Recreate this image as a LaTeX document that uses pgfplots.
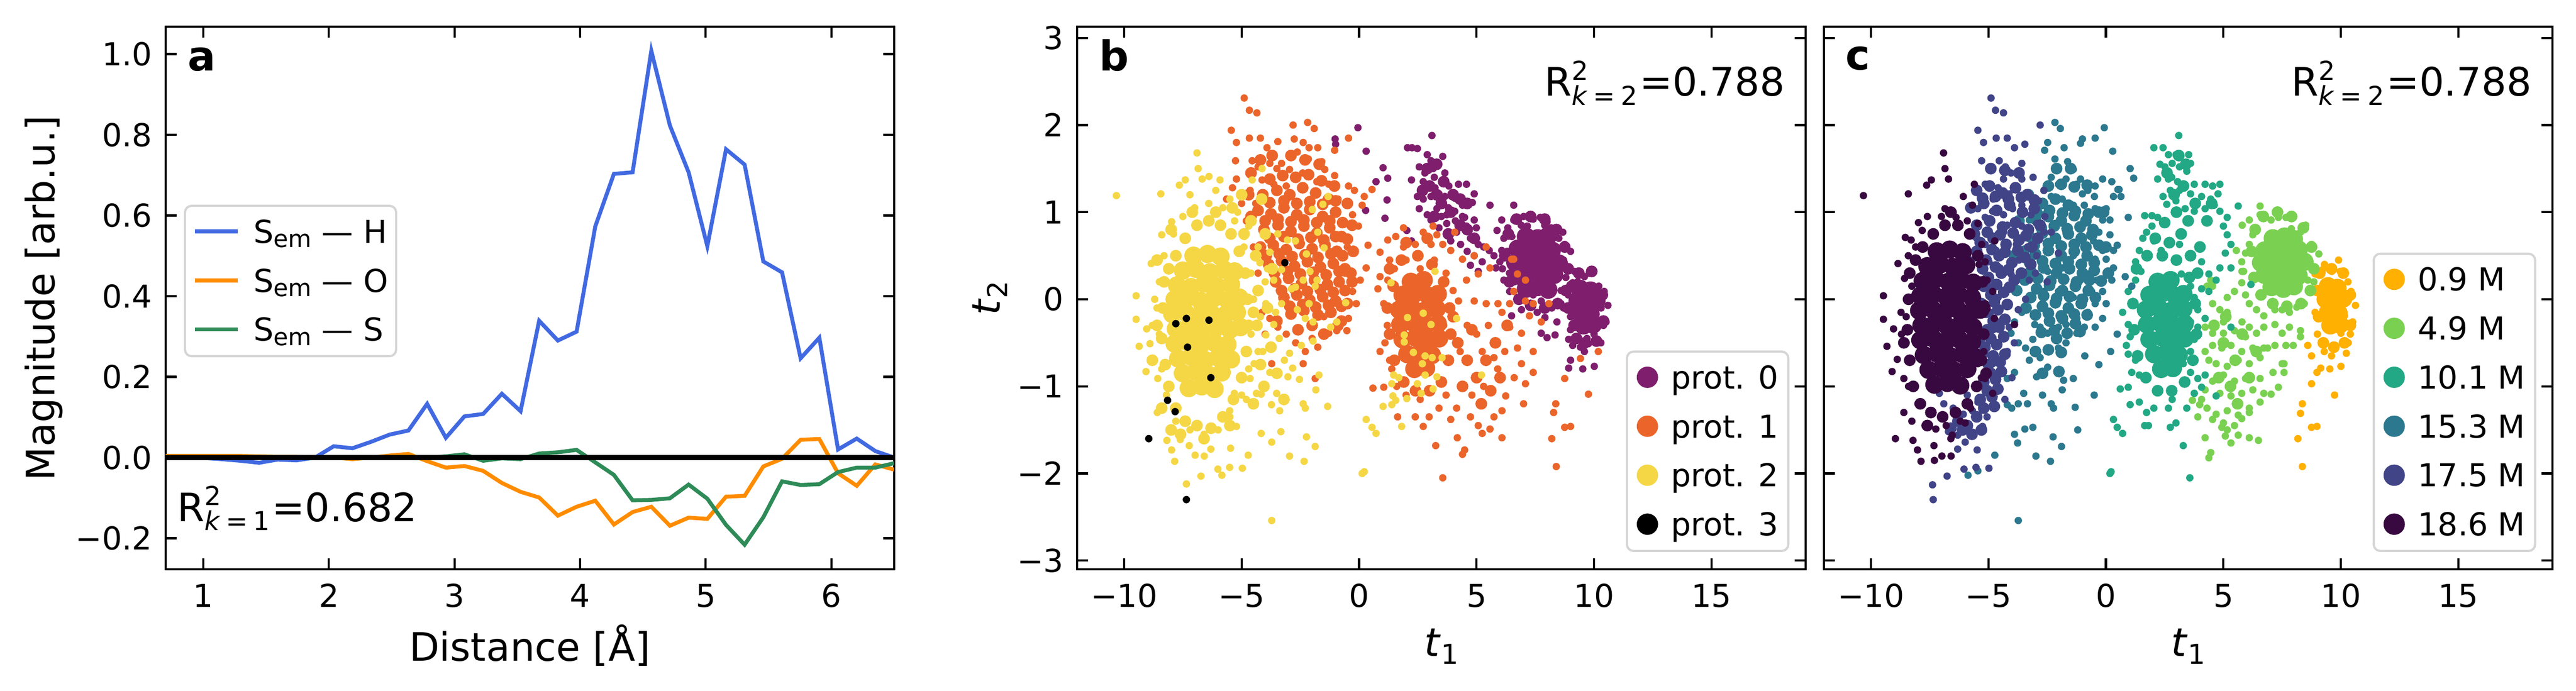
\documentclass[border=0pt]{standalone}
\usepackage{fontspec}
\setmainfont{DejaVu Sans}
\usepackage{pgfplots}
\pgfplotsset{compat=1.18}
\definecolor{cH}{HTML}{4169E1}
\definecolor{cO}{HTML}{FF8C00}
\definecolor{cS}{HTML}{2E8B57}
\definecolor{pA}{HTML}{7E1E6C}
\definecolor{pB}{HTML}{EB652B}
\definecolor{pC}{HTML}{F5D746}
\definecolor{pD}{HTML}{000000}
\definecolor{mA}{HTML}{FFB000}
\definecolor{mB}{HTML}{7AD151}
\definecolor{mC}{HTML}{22A884}
\definecolor{mD}{HTML}{2C788E}
\definecolor{mE}{HTML}{414487}
\definecolor{mF}{HTML}{380840}
\definecolor{legframe}{HTML}{D5D5D5}
\newcommand\tickfont{\fontsize{14.5bp}{17bp}\selectfont}
\newcommand\labfont{\fontsize{18bp}{21bp}\selectfont}
\newcommand\smfont{\fontsize{12bp}{14bp}\selectfont}
\newcommand\panfont{\fontsize{19bp}{22bp}\selectfont\bfseries}
\newcommand\Rsq[2]{R\rlap{\raisebox{7.3bp}{\smfont 2}}\raisebox{-4.2bp}{\smfont\textit{k}\hspace{2.5bp}=\hspace{2.5bp}#1}\hspace{1bp}=#2}
\newcommand\Sem[1]{S\raisebox{-2bp}{\fontsize{11bp}{13bp}\selectfont em} — #1}
\pgfplotsset{
  panel/.style={scale only axis, width=334.5bp, height=249.36bp,
    clip mode=individual,
    tick align=inside, tick pos=both, xticklabel pos=lower, yticklabel pos=left,
    major tick length=5bp, minor tick num=0,
    every tick/.style={line width=1bp, black},
    axis line style={line width=1bp},
    xticklabel style={anchor=base, yshift=-17.5bp, inner sep=0pt, font=\tickfont},
    yticklabel style={anchor=east, xshift=-6bp, inner sep=0pt, font=\tickfont},
    legend style={draw=legframe, line width=1bp, rounded corners=3bp, fill=white,
      inner xsep=4.5bp, inner ysep=6.5bp, row sep=11.4bp, font=\tickfont,
      nodes={inner sep=0pt, text height=10.6bp, text depth=0pt, anchor=base west}},
    legend cell align=left},
  dot/.style={only marks, mark=*, mark size=1.5bp, forget plot},
  mid/.style={only marks, mark=*, mark size=2.5bp, forget plot},
  big/.style={only marks, mark=*, mark size=4bp, forget plot},
  scatpanel/.style={panel, xmin=-12, xmax=19, ymin=-3.1, ymax=3.13,
    xtick={-10,-5,0,5,10,15}, xticklabels={−10,−5,0,5,10,15},
    ytick={-3,-2,-1,0,1,2,3},
    legend style={at={(0.9778,0.0318)}, anchor=south east}}
}
\newcommand\legdot[1]{\addlegendimage{legend image code/.code={\fill[#1] (8.7bp,5.3bp) circle (4.4bp); \path (19bp,0bp);}}}
\newcommand\legline[1]{\addlegendimage{legend image code/.code={\draw[#1, line width=1.8bp] (0bp,5.3bp) -- (19.7bp,5.3bp); \path (26.5bp,0bp);}}}
\begin{document}
\begin{tikzpicture}
\path[use as bounding box] (0,0) rectangle (1182.96bp,317.52bp);
% ---------------- panel a ----------------
\begin{axis}[panel, at={(76.08bp,55.92bp)}, anchor=south west,
  xmin=0.7, xmax=6.5, ymin=-0.277, ymax=1.068,
  xtick={1,2,3,4,5,6}, xticklabels={1,2,3,4,5,6},
  ytick={-0.2,0,0.2,0.4,0.6,0.8,1.0}, yticklabels={−0.2,0.0,0.2,0.4,0.6,0.8,1.0},
  legend style={at={(0.0251,0.6718)}, anchor=north west, inner xsep=3.6bp}]
\legline{cH}\addlegendentry{\Sem{H}}
\legline{cO}\addlegendentry{\Sem{O}}
\legline{cS}\addlegendentry{\Sem{S}}
\addplot[cH, line width=1.8bp, forget plot] coordinates {
(0.700,0.000) (0.849,0.000) (0.997,-0.001) (1.146,-0.004) (1.295,-0.008) (1.444,-0.013) (1.592,-0.005) (1.741,-0.007) (1.890,0.000) (2.038,0.028)
(2.187,0.023) (2.336,0.039) (2.485,0.057) (2.633,0.067) (2.782,0.133) (2.931,0.049) (3.079,0.102) (3.228,0.108) (3.377,0.158) (3.526,0.115)
(3.674,0.339) (3.823,0.290) (3.972,0.312) (4.121,0.573) (4.269,0.703) (4.418,0.707) (4.567,1.008) (4.715,0.823) (4.864,0.707) (5.013,0.524)
(5.162,0.764) (5.310,0.726) (5.459,0.486) (5.608,0.459) (5.756,0.246) (5.905,0.297) (6.054,0.020) (6.203,0.047) (6.351,0.016) (6.500,0.000)};
\addplot[cO, line width=1.8bp, forget plot] coordinates {
(0.700,0.004) (0.849,0.004) (0.997,0.004) (1.146,0.004) (1.295,0.004) (1.444,0.003) (1.592,0.002) (1.741,0.002) (1.890,0.001) (2.038,0.000)
(2.187,-0.004) (2.336,0.000) (2.485,0.005) (2.633,0.009) (2.782,-0.009) (2.931,-0.025) (3.079,-0.021) (3.228,-0.033) (3.377,-0.063) (3.526,-0.085)
(3.674,-0.099) (3.823,-0.144) (3.972,-0.122) (4.121,-0.107) (4.269,-0.166) (4.418,-0.135) (4.567,-0.122) (4.715,-0.169) (4.864,-0.149) (5.013,-0.152)
(5.162,-0.097) (5.310,-0.095) (5.459,-0.022) (5.608,-0.003) (5.756,0.044) (5.905,0.046) (6.054,-0.039) (6.203,-0.070) (6.351,-0.017) (6.500,-0.030)};
\addplot[cS, line width=1.8bp, forget plot] coordinates {
(0.700,0.000) (0.849,0.000) (0.997,0.000) (1.146,0.000) (1.295,0.000) (1.444,0.000) (1.592,0.000) (1.741,0.000) (1.890,0.000) (2.038,0.000)
(2.187,0.000) (2.336,0.000) (2.485,0.000) (2.633,0.000) (2.782,0.000) (2.931,0.003) (3.079,0.008) (3.228,-0.008) (3.377,-0.002) (3.526,-0.004)
(3.674,0.010) (3.823,0.013) (3.972,0.019) (4.121,-0.012) (4.269,-0.043) (4.418,-0.106) (4.567,-0.105) (4.715,-0.101) (4.864,-0.067) (5.013,-0.102)
(5.162,-0.167) (5.310,-0.216) (5.459,-0.148) (5.608,-0.059) (5.756,-0.068) (5.905,-0.066) (6.054,-0.036) (6.203,-0.025) (6.351,-0.025) (6.500,-0.014)};
\addplot[black, line width=2.2bp, forget plot] coordinates {(0.7,0) (6.5,0)};
\path (rel axis cs:0,1) ++(10bp,-20.2bp) node[anchor=base west, inner sep=0pt] {\panfont a};
\path (rel axis cs:0,0) ++(5.2bp,22bp) node[anchor=base west, inner sep=0pt] {\labfont\Rsq{1}{0.682}};
\path (rel axis cs:0.5,0) ++(0bp,-42.2bp) node[anchor=base, inner sep=0pt] {\labfont Distance [Å]};
\path (rel axis cs:0,0.5) ++(-51bp,0bp) node[rotate=90, anchor=base, inner sep=0pt] {\labfont Magnitude [arb.u.]};
\end{axis}
% ---------------- panel b ----------------
\begin{axis}[scatpanel, at={(494.64bp,55.92bp)}, anchor=south west,
  yticklabels={−3,−2,−1,0,1,2,3}]
\legdot{pA}\addlegendentry{prot. 0}
\legdot{pB}\addlegendentry{prot. 1}
\legdot{pC}\addlegendentry{prot. 2}
\legdot{pD}\addlegendentry{prot. 3}
% prot 0
\addplot[big, pA] coordinates {
(7.1,0.72) (7.6,0.70) (8.05,0.73) (6.75,0.58) (7.25,0.55) (7.75,0.59) (8.2,0.56)
(6.65,0.42) (7.15,0.44) (7.65,0.40) (8.15,0.43) (8.5,0.41) (6.8,0.27) (7.3,0.29) (7.8,0.26) (8.3,0.28)
(7.1,0.12) (7.6,0.14) (8.05,0.11)
(9.4,0.12) (9.85,0.10) (9.3,-0.02) (9.75,-0.03) (10.1,-0.01) (9.4,-0.16) (9.85,-0.17) (9.55,-0.30) (9.95,-0.29)};
\addplot[mid, pA] coordinates {
(6.2,0.5) (6.35,0.75) (6.7,0.92) (7.3,0.95) (7.9,0.92) (8.4,0.8) (8.75,0.6) (8.9,0.35) (8.8,0.1) (8.45,-0.05)
(7.9,-0.1) (7.3,-0.07) (6.8,0.0) (6.4,0.2) (8.9,-0.1) (9.05,0.15) (9.15,-0.3) (9.35,0.3) (9.9,0.32) (10.35,0.05)
(10.4,-0.25) (10.1,-0.48) (9.6,-0.5) (9.25,-0.45) (3.3,1.2) (3.9,1.0) (4.3,1.15) (3.6,1.35) (2.9,1.5) (4.6,0.8)
(3.0,1.3) (3.5,1.1) (4.0,1.2) (3.2,0.95) (4.3,0.85) (3.8,0.75) (2.7,1.25) (3.3,1.55) (4.6,1.1) (4.9,0.7)};
\addplot[dot, pA] coordinates {
(-0.05,1.97) (-1.02,1.84) (-1.00,1.78) (0.30,1.70) (1.02,1.51) (1.22,1.39) (0.72,1.35) (1.19,1.14) (1.10,0.93) (0.28,1.02)
(3.10,1.88) (2.06,1.74) (2.25,1.74) (2.48,1.73) (2.90,1.66) (3.06,1.59) (3.56,1.64) (3.65,1.45) (2.56,1.52) (3.15,1.50)
(2.23,1.37) (2.73,1.35) (3.23,1.28) (3.82,1.30) (4.23,1.32) (4.57,1.32) (4.90,1.21) (4.82,1.11) (4.40,1.08) (4.07,1.16)
(3.65,1.18) (3.40,1.21) (3.06,1.18) (2.73,1.15) (2.48,1.18) (2.56,1.04) (2.90,0.97) (3.31,1.04) (3.73,0.97) (4.07,1.01)
(4.49,0.94) (4.90,0.91) (4.99,0.82) (4.57,0.84) (4.15,0.77) (3.73,0.87) (3.40,0.82) (3.06,0.91) (3.90,0.67) (4.32,0.63)
(4.74,0.70) (5.07,0.63) (4.90,0.50) (4.74,0.39) (5.24,0.43) (5.07,0.32) (5.57,1.08) (6.58,1.08) (6.07,0.91) (5.87,0.79)
(5.54,0.56) (5.74,0.50) (5.82,0.36) (6.16,0.22) (6.41,0.09) (6.74,0.02) (7.41,0.05) (7.75,-0.02) (8.59,-0.05) (6.49,-0.19)
(6.91,-0.12) (7.58,-0.15) (7.91,-0.21) (8.42,-0.26) (7.75,-0.39) (8.00,-0.44) (8.34,-0.41) (8.92,-0.46) (9.09,-0.53) (9.42,-0.55)
(9.76,-0.51) (10.29,-0.50) (10.51,-0.26) (10.59,-0.07) (10.43,0.09) (9.96,0.32) (9.59,0.26) (9.17,0.32) (9.00,-0.70) (9.52,-0.80)
(10.01,-0.77) (8.92,-0.79) (9.59,-0.60) (7.16,0.84) (7.41,0.92) (7.71,0.94) (6.58,0.91) (6.33,0.82) (6.16,0.70) (6.07,0.56)
(5.99,0.43) (8.75,0.63) (9.00,0.55) (8.67,0.77) (8.17,0.82) (8.00,0.89) (9.09,0.19) (2.03,0.79) (2.23,0.67)
(6.3,0.55) (6.4,0.3) (6.5,0.72) (6.9,0.85) (8.5,0.7) (8.7,0.45) (8.8,0.25) (8.6,0.1) (8.9,0.05) (8.7,-0.1)
(9.0,-0.2) (9.1,0.0) (9.0,-0.35) (10.2,0.15) (10.3,-0.1) (10.2,-0.3) (9.3,-0.45) (9.7,-0.45) (10.0,-0.4) (10.4,-0.3)
(9.3,0.2) (9.8,0.3) (8.2,-0.1) (7.2,-0.05) (6.6,0.2) (6.1,0.35) (7.0,0.95) (7.9,0.85) (8.4,0.6) (3.8,1.05)
(3.2,1.4) (2.8,1.45) (4.4,0.95) (3.5,0.95) (4.1,0.9) (4.6,0.55) (5.3,0.6)};
% prot 1
\addplot[mid, pB] coordinates {
(-4.1,1.2) (-3.5,1.25) (-2.95,1.2) (-2.4,1.28) (-1.85,1.22) (-1.3,1.15)
(-4.3,1.02) (-3.75,0.98) (-3.2,1.05) (-2.65,0.97) (-2.1,1.03) (-1.55,0.95) (-1.0,1.0)
(-4.05,0.8) (-3.45,0.85) (-2.9,0.78) (-2.35,0.84) (-1.8,0.76) (-1.25,0.82) (-0.75,0.72)
(-4.2,0.6) (-3.65,0.62) (-3.1,0.57) (-2.55,0.64) (-2.0,0.58) (-1.45,0.62) (-0.95,0.55)
(-3.85,0.4) (-3.3,0.44) (-2.75,0.38) (-2.2,0.43) (-1.65,0.37) (-1.1,0.41) (-0.6,0.35)
(-3.55,0.2) (-3.0,0.24) (-2.45,0.18) (-1.9,0.22) (-1.35,0.17) (-0.85,0.2)
(-3.2,0.02) (-2.65,0.05) (-2.1,-0.01) (-1.55,0.03) (-1.0,-0.02)
(-2.9,-0.17) (-2.35,-0.13) (-1.75,-0.18) (-1.2,-0.15)
(-3.8,1.11) (-3.2,1.13) (-2.65,1.10) (-2.1,1.12) (-1.55,1.09) (-1.0,1.13)
(-4.0,0.9) (-3.45,0.92) (-2.9,0.89) (-2.35,0.91) (-1.8,0.88) (-1.25,0.9) (-0.7,0.88)
(-3.8,0.7) (-3.2,0.72) (-2.6,0.69) (-2.05,0.71) (-1.5,0.68) (-1.0,0.72) (-0.5,0.69)
(-3.95,0.5) (-3.4,0.52) (-2.85,0.49) (-2.3,0.51) (-1.75,0.48) (-1.2,0.52) (-0.7,0.5)
(-3.6,0.3) (-3.05,0.32) (-2.5,0.29) (-1.95,0.31) (-1.4,0.28) (-0.85,0.32) (-0.35,0.3)
(-3.3,0.1) (-2.75,0.12) (-2.2,0.09) (-1.65,0.11) (-1.1,0.08) (-0.6,0.1)
(-2.95,-0.08) (-2.4,-0.06) (-1.85,-0.09) (-1.3,-0.07) (-0.75,-0.08)
(-4.6,1.45) (-4.2,1.6) (-3.7,1.65) (-2.9,1.65) (-2.3,1.6) (-1.7,1.55) (-4.7,1.2) (-4.6,0.95)
(-3.8,1.38) (-3.25,1.42) (-2.7,1.4) (-2.15,1.43) (-1.6,1.36) (-1.05,1.3) (-0.5,1.1) (-0.3,0.85) (-0.25,0.55) (-0.3,0.2)
(-0.5,-0.05) (-0.75,-0.25) (-3.5,-0.25) (-2.6,-0.35) (-1.5,-0.4) (-2.0,-0.3) (-0.9,-0.3)};
\addplot[big, pB] coordinates {
(2.2,0.20) (2.75,0.22) (1.85,0.05) (2.4,0.07) (2.95,0.04) (3.35,0.06)
(1.7,-0.12) (2.25,-0.10) (2.8,-0.13) (3.3,-0.11) (1.75,-0.29) (2.3,-0.27) (2.85,-0.30) (3.35,-0.28)
(1.85,-0.46) (2.4,-0.44) (2.95,-0.47) (3.4,-0.45) (2.05,-0.63) (2.6,-0.61) (3.1,-0.64) (2.35,-0.80) (2.85,-0.79)};
\addplot[mid, pB] coordinates {
(1.3,0.35) (1.8,0.45) (2.5,0.5) (3.1,0.4) (3.6,0.2) (3.85,-0.1) (3.9,-0.4) (3.8,-0.7) (3.5,-0.95) (3.0,-1.05)
(2.4,-1.05) (1.9,-0.95) (1.5,-0.7) (1.3,-0.4) (1.2,-0.1) (1.45,0.15) (2.0,0.65) (2.9,0.7)
(4.2,-0.5) (4.6,-0.7) (5.0,-0.9) (5.4,-0.7) (5.8,-0.5) (4.4,-1.0) (5.2,-1.2) (6.0,-0.9) (4.0,-0.2) (6.3,-0.3) (5.6,-1.05) (4.8,-0.35)};
\addplot[dot, pB] coordinates {
(-4.89,2.31) (-4.67,2.17) (-4.35,2.14) (-5.44,1.94) (-5.22,1.80) (-5.26,1.59) (-4.67,1.85) (-4.20,1.85) (-3.92,1.74) (-3.46,1.81)
(-2.81,2.00) (-2.19,2.03) (-1.91,1.96) (-2.76,1.84) (-2.38,1.80) (-2.13,1.74) (-1.76,1.74) (-0.45,1.85) (-1.04,1.71) (-1.59,1.58)
(-2.16,1.61) (-2.63,1.69) (-4.55,1.59) (-4.30,1.52) (-3.80,1.56) (-3.30,1.56) (-2.96,1.49) (-4.13,1.37) (-3.63,1.32) (-4.64,1.25)
(-5.22,1.38) (-5.39,1.28) (-5.64,1.15) (-1.46,1.49) (-1.04,1.42) (-1.29,1.32) (-0.45,1.30) (-0.20,1.25) (0.22,1.18) (0.55,1.26)
(0.13,1.08) (-0.28,0.97) (-0.03,0.84) (0.38,0.62) (0.30,0.36) (0.05,0.22) (-0.28,0.09) (-0.12,-0.05) (-0.45,-0.22) (-0.52,-0.36)
(-0.95,-0.36) (-1.29,-0.39) (-1.76,-0.55) (-2.29,-0.60) (-3.46,-0.32) (-3.80,-0.22) (-4.13,-0.15) (-3.72,-0.74) (-2.38,-0.74) (-1.87,-0.91)
(-2.0,-0.45) (-2.7,-0.5) (-3.1,-0.4) (-1.5,-0.2) (-0.8,-0.1) (-0.6,0.3) (-0.5,0.6) (-0.7,0.9) (-0.9,1.15) (-1.8,1.35)
(-2.4,1.45) (-3.1,1.3) (-3.5,1.5) (-4.4,1.1) (-4.8,0.9) (-5.0,1.1) (-4.5,0.6) (-4.3,0.3) (-4.5,0.0) (-4.0,-0.4)
(1.89,0.82) (1.56,0.72) (1.22,0.68) (0.89,0.54) (1.89,0.60) (2.39,0.63) (2.73,0.77) (3.15,0.84) (3.31,0.74) (3.06,0.63)
(2.56,0.50) (3.56,0.63) (4.07,0.77) (3.90,0.56) (4.40,0.46) (4.90,0.50) (5.41,0.60) (5.57,0.36) (5.07,0.29) (4.57,0.22)
(4.23,-0.02) (4.90,-0.02) (5.41,-0.05) (5.91,-0.05) (6.08,-0.15) (6.41,-0.05) (6.58,0.09) (6.74,0.29) (6.49,0.46) (7.08,0.22)
(7.08,-0.02) (7.41,-0.05) (7.25,-0.19) (7.75,-0.26) (8.08,-0.05) (6.91,-0.39) (6.41,-0.32) (6.74,-0.56) (7.41,-0.60) (6.91,-0.74)
(7.41,-0.84) (7.08,-0.97) (6.24,-1.11) (6.08,-1.28) (5.74,-1.35) (5.57,-1.49) (6.08,-1.59) (5.24,-1.54) (5.07,-1.45) (4.74,-1.35)
(4.15,-1.25) (3.90,-1.38) (4.18,-1.59) (4.49,-1.73) (4.40,-1.78) (3.56,-2.05) (3.26,-1.68) (2.73,-1.46) (2.98,-1.35) (3.40,-1.25)
(2.39,-1.35) (1.64,-1.35) (1.05,-1.01) (0.59,-1.02) (1.39,-0.80) (0.89,-0.60) (1.05,-0.05) (0.80,0.12) (1.22,0.22) (0.89,0.26)
(5.74,-0.67) (5.24,-0.60) (8.75,-0.91) (9.76,-1.09) (8.37,-1.20) (8.28,-1.30) (8.75,-1.47) (9.00,-1.46) (8.20,-1.60) (8.39,-1.92)
(10.18,-0.60) (9.42,-0.68) (6.58,0.46) (1.3,0.45) (1.5,0.35) (1.2,-0.3) (1.1,-0.5) (1.3,-0.7) (1.6,-1.0) (2.0,-1.1)
(2.6,-1.15) (3.1,-1.05) (3.7,-1.1) (4.3,-0.6) (4.6,-0.3) (5.0,-0.4) (5.5,-0.3) (5.9,-0.8) (6.2,-0.6) (5.3,-1.0)
(4.8,-1.1) (6.6,-0.9) (7.0,-1.2) (3.7,0.3) (4.0,0.1) (3.6,-0.3) (2.0,0.45) (2.6,0.35) (3.2,0.45)};
% prot 2
\addplot[big, pC] coordinates {
(-7.05,0.50) (-6.45,0.52) (-5.9,0.49)
(-7.5,0.33) (-6.95,0.35) (-6.35,0.31) (-5.75,0.34) (-5.3,0.32)
(-7.75,0.16) (-7.15,0.14) (-6.6,0.18) (-6.05,0.15) (-5.45,0.17)
(-7.85,0.0) (-7.3,0.02) (-6.75,-0.02) (-6.2,0.01) (-5.6,-0.01) (-5.1,0.02)
(-7.95,-0.17) (-7.4,-0.15) (-6.85,-0.19) (-6.3,-0.16) (-5.7,-0.18) (-5.2,-0.15)
(-7.8,-0.34) (-7.25,-0.32) (-6.7,-0.36) (-6.1,-0.33) (-5.5,-0.35) (-5.05,-0.32)
(-7.85,-0.51) (-7.3,-0.49) (-6.75,-0.53) (-6.15,-0.50) (-5.6,-0.52)
(-7.7,-0.68) (-7.15,-0.66) (-6.55,-0.70) (-6.0,-0.67) (-5.45,-0.69)
(-7.5,-0.85) (-6.95,-0.83) (-6.4,-0.87) (-5.85,-0.84)
(-7.25,-1.02) (-6.7,-1.00) (-6.15,-1.03)};
\addplot[mid, pC] coordinates {
(-8.3,0.2) (-8.35,-0.1) (-8.4,-0.45) (-8.25,-0.75) (-8.1,-1.0) (-7.8,-1.25) (-7.4,-1.4) (-6.9,-1.45) (-6.3,-1.48) (-5.8,-1.35)
(-5.35,-1.15) (-5.0,-0.9) (-4.8,-0.6) (-4.7,-0.3) (-4.75,0.0) (-4.85,0.3) (-5.1,0.55) (-5.45,0.75) (-5.9,0.85) (-6.4,0.9)
(-6.9,0.85) (-7.4,0.7) (-7.8,0.5) (-8.1,0.35) (-7.1,1.0) (-6.1,1.0) (-8.6,-0.3) (-4.5,-0.15) (-7.6,-1.55) (-6.6,-1.6)
(-5.5,-1.45) (-4.9,0.75)
(-4.6,0.9) (-4.4,0.5) (-4.3,0.1) (-4.35,-0.3) (-4.2,-0.75) (-4.5,-1.2) (-4.0,0.75) (-3.9,-0.1) (-3.75,-0.55) (-4.05,-1.0)
(-3.7,0.35) (-4.15,1.15) (-3.5,-0.85) (-3.2,-1.15) (-5.0,1.2) (-5.4,1.05) (-8.0,0.8) (-8.6,0.45) (-8.8,-0.7) (-8.4,-1.25) (-8.0,-1.5)};
\addplot[dot, pC] coordinates {
(-10.33,1.19) (-8.44,1.21) (-7.65,1.31) (-7.40,1.37) (-6.90,1.68) (-6.85,1.50) (-6.68,1.38) (-6.39,1.41) (-5.92,1.37) (-7.98,0.89)
(-8.40,0.74) (-8.85,0.41) (-9.49,0.04) (-9.49,-0.23) (-9.36,-0.54) (-9.04,-0.34) (-8.90,-0.51) (-9.07,-0.83) (-8.85,-0.69) (-8.57,-0.91)
(-8.59,-1.30) (-8.18,-1.62) (-7.98,-1.73) (-7.85,-1.86) (-7.61,-1.61) (-7.23,-1.68) (-6.98,-1.79) (-7.35,-2.12) (-6.73,-2.03) (-6.59,-1.80)
(-6.31,-1.72) (-6.01,-1.95) (-5.84,-2.02) (-5.51,-1.93) (-4.97,-1.94) (-4.72,-1.79) (-5.47,-1.71) (-5.22,-1.46) (-5.51,-1.28) (-3.72,-2.54)
(-4.17,-1.54) (-3.72,-1.64) (-3.33,-1.52) (-2.96,-1.80) (-2.34,-1.86) (-1.87,-1.69) (-2.24,-1.58) (-3.38,-1.28) (-3.73,-1.21) (-4.17,-1.09)
(-3.51,-1.08) (-2.38,-1.20) (-2.29,-1.25) (-1.84,-1.04) (-1.34,-1.23) (-2.54,-0.92) (-3.03,-0.89) (-2.83,-0.79) (-3.18,-0.70) (-2.96,-0.62)
(-2.46,-0.53) (-1.96,-0.48) (-1.71,-0.87) (-1.21,-0.32) (-0.95,-0.26) (-0.57,-0.04) (-1.96,-0.26) (-2.29,-0.22) (-2.13,-0.05) (-2.63,-0.12)
(-2.88,0.12) (-2.71,0.14) (-2.38,0.22) (-2.09,0.32) (-1.87,0.15) (-1.79,0.22) (-1.76,0.77) (-2.24,0.52) (-1.49,0.59) (-1.54,1.09)
(-1.32,1.18) (-1.99,1.03) (-2.71,0.67) (-3.05,0.68) (-3.46,0.75) (-3.80,0.54) (-4.22,0.42) (-4.13,1.50) (-4.55,1.37) (-5.17,1.00)
(-4.70,0.84) (-4.89,0.72) (-3.63,0.22) (-3.30,0.34) (-4.22,0.09) (-3.97,-0.05) (-3.55,-0.15) (-3.30,-0.05) (-3.63,-0.29) (-3.97,-0.41)
(-4.30,-0.60) (-4.47,-0.74) (-3.80,-0.84) (-4.64,-0.91) (-4.37,-1.08) (-4.80,-1.15) (-5.31,-1.08) (0.30,-1.38) (0.55,-1.47) (0.72,-1.54)
(0.13,-2.00) (0.22,-1.98) (1.02,-1.23) (1.39,-1.21) (1.44,-1.11) (1.56,-1.16) (1.81,-1.46) (2.03,-1.14) (1.39,-0.97) (1.47,-0.87)
(1.69,-0.90) (1.92,-0.41) (1.92,-0.49) (2.06,-0.21) (2.73,-0.16) (3.06,-0.29) (2.31,-0.61) (2.81,-0.65) (2.69,-0.74) (3.11,-0.67)
(3.53,-0.67) (2.48,-0.97) (2.81,-0.87) (3.15,-1.03) (3.31,-0.89) (2.64,-1.08) (4.15,-0.22) (5.21,-0.87) (3.23,0.32) (1.36,0.19)
(-8.3,0.5) (-8.5,0.2) (-8.6,-0.1) (-8.5,-0.4) (-8.4,-0.8) (-8.2,-1.1) (-7.8,-1.4) (-7.2,-1.5) (-6.6,-1.55) (-6.0,-1.5)
(-5.5,-1.35) (-5.0,-1.1) (-4.7,-0.8) (-4.6,-0.4) (-4.5,0.0) (-4.6,0.3) (-4.9,0.6) (-5.3,0.9) (-5.8,1.05) (-6.4,1.1)
(-7.0,1.05) (-7.5,0.95) (-7.9,0.75) (-4.2,-0.2) (-4.0,0.2) (-4.3,0.6) (-4.1,-0.6) (-3.9,0.35) (-3.4,-0.45) (-8.7,0.0)
(-8.8,-0.3) (-6.1,1.25) (-5.5,1.15) (-7.2,1.2)};
% prot 3
\addplot[dot, pD] coordinates {
(-3.16,0.42) (-7.35,-0.22) (-6.39,-0.24) (-7.80,-0.28) (-7.30,-0.55) (-6.31,-0.90) (-8.15,-1.16) (-7.83,-1.29) (-8.95,-1.60) (-7.35,-2.30)};
\path (rel axis cs:0,1) ++(10bp,-20.2bp) node[anchor=base west, inner sep=0pt] {\panfont b};
\path (rel axis cs:1,1) ++(-9.4bp,-31.9bp) node[anchor=base east, inner sep=0pt] {\labfont\Rsq{2}{0.788}};
\path (rel axis cs:0.5,0) ++(0bp,-40bp) node[anchor=base, inner sep=0pt] {\labfont\textit{t}\raisebox{-3.5bp}{\fontsize{12.6bp}{14bp}\selectfont 1}};
\path (rel axis cs:0,0.5) ++(-35.5bp,0bp) node[rotate=90, anchor=base, inner sep=0pt] {\labfont\textit{t}\raisebox{-3.5bp}{\fontsize{12.6bp}{14bp}\selectfont 2}};
\end{axis}
% ---------------- panel c ----------------
\begin{axis}[scatpanel, at={(837.6bp,55.92bp)}, anchor=south west,
  yticklabels={}]
\legdot{mA}\addlegendentry{0.9 M}
\legdot{mB}\addlegendentry{4.9 M}
\legdot{mC}\addlegendentry{10.1 M}
\legdot{mD}\addlegendentry{15.3 M}
\legdot{mE}\addlegendentry{17.5 M}
\legdot{mF}\addlegendentry{18.6 M}
% 0.9 M
\addplot[big, mA] coordinates {
(9.45,0.15) (9.85,0.13) (9.35,0.0) (9.8,-0.02) (10.1,0.01) (9.45,-0.15) (9.9,-0.16) (9.55,-0.30) (9.95,-0.29)};
\addplot[mid, mA] coordinates {
(9.1,0.3) (9.6,0.35) (10.1,0.3) (10.4,0.05) (10.4,-0.3) (10.15,-0.5) (9.7,-0.55) (9.25,-0.5) (9.05,-0.2) (9.0,0.1)};
\addplot[dot, mA] coordinates {
(9.61,0.32) (9.97,0.32) (9.22,0.34) (8.90,0.29) (10.43,0.09) (10.62,-0.07) (10.50,-0.26) (10.31,-0.50) (10.23,-0.62) (10.00,-0.77)
(9.53,-0.80) (9.14,-0.79) (8.98,-0.84) (8.75,-0.65) (8.59,-0.53) (8.75,-0.97) (9.73,-1.10) (8.36,-1.20) (8.28,-1.31) (8.75,-1.47)
(8.98,-1.46) (8.17,-1.60) (8.36,-1.92) (9.29,-0.60) (9.76,-0.53) (10.0,-0.39) (10.15,-0.19) (9.3,0.4) (9.0,0.1) (8.9,-0.15)
(9.0,-0.4) (10.3,0.2) (10.4,-0.4) (9.6,-0.65) (9.9,0.45)};
% 4.9 M
\addplot[big, mB] coordinates {
(7.1,0.70) (7.6,0.72) (8.0,0.69) (6.75,0.56) (7.25,0.58) (7.75,0.55) (8.2,0.57)
(6.6,0.42) (7.1,0.40) (7.6,0.43) (8.1,0.41) (8.45,0.43) (6.75,0.28) (7.25,0.26) (7.75,0.29) (8.2,0.27)
(7.05,0.14) (7.55,0.12) (8.0,0.15)};
\addplot[mid, mB] coordinates {
(6.2,0.55) (6.35,0.8) (6.7,0.95) (7.3,1.0) (7.9,0.95) (8.4,0.82) (8.75,0.6) (8.85,0.35) (8.7,0.1) (8.3,-0.05)
(7.7,-0.08) (7.1,-0.05) (6.6,0.05) (6.3,0.25) (5.0,-0.5) (5.5,-0.7) (5.8,-0.4) (5.3,-1.0) (4.8,-0.9) (6.1,-0.9)
(5.6,-1.2) (6.4,-0.6) (4.6,-0.3) (5.1,-0.2)};
\addplot[dot, mB] coordinates {
(6.56,1.07) (6.10,0.91) (6.56,0.97) (7.03,0.91) (7.34,0.94) (7.66,0.94) (7.89,0.81) (8.28,0.77) (8.75,0.63) (9.06,0.52)
(8.9,0.36) (8.59,0.22) (8.75,0.09) (8.44,-0.05) (8.12,-0.09) (7.81,-0.15) (7.50,-0.12) (7.19,-0.12) (6.72,-0.19) (6.41,-0.12)
(6.10,-0.05) (5.94,0.05) (5.78,0.19) (5.86,0.32) (5.78,0.43) (5.94,0.53) (6.10,0.63) (6.25,0.74) (5.55,0.56) (5.79,0.32)
(4.46,0.22) (4.30,0.15) (4.54,-0.05) (4.85,-0.12) (5.16,-0.15) (5.00,-0.26) (4.54,-0.29) (4.22,-0.32) (4.54,-0.39) (5.00,-0.39)
(5.47,-0.36) (5.79,-0.26) (6.10,-0.32) (5.94,-0.43) (6.41,-0.39) (6.72,-0.32) (7.19,-0.29) (7.50,-0.39) (7.81,-0.32) (8.28,-0.36)
(8.28,-0.43) (7.66,-0.53) (7.19,-0.53) (6.72,-0.56) (6.25,-0.56) (5.78,-0.60) (5.32,-0.53) (4.93,-0.56) (4.54,-0.53) (4.22,-0.60)
(4.38,-0.70) (4.69,-0.74) (5.16,-0.77) (5.63,-0.70) (6.10,-0.74) (6.56,-0.67) (6.88,-0.56) (7.50,-0.74) (7.58,-0.84) (7.11,-0.84)
(6.56,-0.91) (5.94,-0.91) (5.47,-0.94) (5.00,-0.87) (4.54,-0.94) (4.22,-1.04) (4.07,-1.15) (3.99,-1.21) (3.76,-1.08) (4.85,-1.08)
(5.32,-1.11) (5.78,-1.08) (6.25,-1.04) (6.72,-1.08) (7.03,-1.09) (6.56,-1.18) (6.10,-1.25) (5.63,-1.33) (5.16,-1.28) (4.69,-1.32)
(4.30,-1.25) (4.54,-1.38) (5.00,-1.42) (5.47,-1.45) (5.78,-1.37) (6.10,-1.30) (6.49,-1.62) (6.10,-1.59) (5.63,-1.56) (5.16,-1.50)
(4.93,-1.47) (5.08,-1.57) (5.32,-1.65) (4.22,-1.59) (4.46,-1.76) (4.38,-1.82) (3.91,-1.35) (3.68,-1.16) (7.34,-1.01) (7.58,-0.74)
(7.97,-0.53) (4.54,0.15) (5.16,0.02) (5.47,0.09) (5.8,0.85) (8.5,0.85) (8.85,0.2)};
% 10.1 M
\addplot[big, mC] coordinates {
(2.2,0.20) (2.75,0.22) (1.85,0.05) (2.4,0.07) (2.95,0.04) (3.3,0.06)
(1.7,-0.12) (2.25,-0.10) (2.8,-0.13) (3.3,-0.11) (1.75,-0.29) (2.3,-0.27) (2.85,-0.30) (3.35,-0.28)
(1.85,-0.46) (2.4,-0.44) (2.95,-0.47) (3.35,-0.45) (2.05,-0.63) (2.6,-0.61) (3.1,-0.64) (2.35,-0.80) (2.85,-0.79)};
\addplot[mid, mC] coordinates {
(1.3,0.35) (1.75,0.5) (2.4,0.5) (3.0,0.45) (3.55,0.25) (3.8,-0.05) (3.85,-0.4) (3.7,-0.7) (3.35,-0.95) (2.8,-1.05)
(2.2,-1.05) (1.7,-0.9) (1.35,-0.65) (1.2,-0.35) (1.15,-0.05) (2.7,0.65) (3.2,0.75) (2.5,0.88) (3.0,1.0) (3.5,0.9)
(3.8,1.1) (3.3,1.3) (2.9,1.2) (4.0,0.6) (3.6,0.5) (2.1,0.7) (4.3,0.9) (3.9,0.3) (3.4,1.55) (2.6,1.45) (4.5,1.1) (3.1,1.65)};
\addplot[dot, mC] coordinates {
(3.10,1.88) (2.04,1.74) (2.43,1.74) (2.66,1.66) (2.98,1.66) (3.52,1.66) (3.60,1.56) (2.51,1.52) (2.82,1.56) (3.13,1.52)
(3.44,1.47) (2.20,1.38) (2.66,1.38) (3.05,1.35) (3.76,1.32) (4.22,1.32) (4.54,1.30) (4.85,1.32) (4.77,1.21) (4.46,1.15)
(4.07,1.18) (3.60,1.21) (3.13,1.25) (2.74,1.25) (2.43,1.18) (2.59,1.09) (2.98,1.13) (3.37,1.04) (3.76,1.01) (4.22,1.04)
(4.61,1.08) (4.85,1.01) (5.16,0.94) (5.00,0.84) (5.16,0.74) (5.32,0.63) (5.08,0.53) (5.32,0.36) (4.85,0.36) (4.69,0.22)
(4.38,0.29) (4.07,0.43) (3.60,0.50) (3.13,0.63) (2.74,0.63) (2.35,0.56) (2.04,0.67) (1.73,0.77) (1.96,0.84) (2.20,0.94)
(1.96,0.96) (1.65,0.96) (1.57,0.70) (1.42,0.56) (1.26,0.43) (1.49,0.32) (1.26,0.22) (0.95,0.09) (1.10,-0.05) (0.71,-0.15)
(0.95,-0.29) (1.03,-0.43) (0.87,-0.53) (0.95,-0.63) (1.26,-0.70) (1.10,-0.84) (1.42,-0.87) (0.95,-1.01) (0.61,-1.03) (1.03,-1.21)
(1.42,-1.18) (1.73,-1.30) (2.04,-1.25) (1.65,-1.45) (1.81,-1.45) (2.66,-1.25) (2.82,-1.15) (2.74,-1.47) (2.98,-1.42) (3.44,-1.25)
(3.76,-1.08) (4.07,-1.01) (4.22,-0.87) (3.91,-0.91) (3.60,-0.84) (3.29,-0.74) (3.60,-0.60) (3.76,-0.46) (3.91,-0.32) (3.60,-0.26)
(4.22,-0.22) (3.91,-0.12) (3.76,0.02) (4.07,0.12) (4.38,0.09) (3.60,0.15) (3.21,0.29) (0.32,-1.38) (0.48,-1.47) (0.71,-1.54)
(0.17,-2.00) (0.22,-1.98) (3.29,-1.68) (3.57,-2.05) (5.63,1.07) (6.17,0.17) (4.69,-1.11) (5.32,-0.32) (2.3,1.55) (2.8,1.4)};
% 15.3 M
\addplot[mid, mD] coordinates {
(-2.7,1.1) (-2.15,1.15) (-1.6,1.08) (-3.0,0.92) (-2.45,0.95) (-1.9,0.9) (-1.35,0.96) (-0.85,0.9)
(-3.25,0.72) (-2.7,0.76) (-2.15,0.7) (-1.6,0.75) (-1.05,0.7) (-0.6,0.74) (-3.0,0.52) (-2.45,0.56) (-1.9,0.5) (-1.35,0.55) (-0.8,0.5)
(-3.2,0.32) (-2.65,0.36) (-2.1,0.3) (-1.55,0.35) (-1.0,0.3) (-0.5,0.33) (-2.95,0.12) (-2.4,0.16) (-1.85,0.1) (-1.3,0.15) (-0.75,0.1)
(-2.7,-0.08) (-2.15,-0.04) (-1.6,-0.1) (-1.05,-0.05) (-2.4,-0.25) (-1.85,-0.22) (-1.3,-0.28) (-2.1,-0.45) (-3.4,-0.1) (-3.5,0.55)
(-2.45,1.3) (-1.9,1.32) (-1.35,1.29) (-0.8,1.31)
(-2.95,1.0) (-2.4,1.02) (-1.85,0.99) (-1.3,1.01) (-0.75,0.98) (-0.3,1.0)
(-2.75,0.82) (-2.2,0.84) (-1.65,0.81) (-1.1,0.83) (-0.55,0.8)
(-3.05,0.62) (-2.45,0.64) (-1.9,0.61) (-1.35,0.63) (-0.85,0.6) (-0.3,0.62)
(-3.25,0.42) (-2.7,0.44) (-2.15,0.41) (-1.6,0.43) (-1.05,0.4) (-0.5,0.42)
(-3.45,0.22) (-2.9,0.24) (-2.35,0.21) (-1.8,0.23) (-1.25,0.2) (-0.7,0.22) (-0.2,0.21)
(-3.2,0.02) (-2.65,0.04) (-2.1,0.01) (-1.55,0.03) (-1.0,0.0) (-0.45,0.02)
(-3.0,-0.18) (-2.45,-0.16) (-1.9,-0.19) (-1.35,-0.17) (-0.8,-0.18)
(-2.75,-0.38) (-2.2,-0.36) (-1.65,-0.39) (-1.1,-0.37)
(-3.0,-0.6) (-2.45,-0.58) (-1.9,-0.61) (-2.7,-0.85) (-2.0,-0.83)
(-3.8,0.1) (-3.9,0.5) (-3.7,0.9) (-3.3,1.2) (0.0,0.6) (0.1,0.3) (-0.1,1.0) (-1.5,1.5) (-2.1,1.5)};
\addplot[dot, mD] coordinates {
(-3.73,-2.54) (-4.73,-1.79) (-5.87,-2.02) (-5.45,-1.97) (-3.89,-1.55) (-3.45,-1.49) (-3.11,-1.47) (-3.76,-1.65) (-2.98,-1.80) (-2.36,-1.86)
(-1.89,-1.69) (-2.25,-1.58) (-4.20,-1.21) (-3.73,-1.20) (-3.34,-1.20) (-4.01,-1.25) (-2.33,-1.20) (-2.23,-1.25) (-1.31,-1.24) (-1.86,-1.04)
(-1.39,-0.91) (-1.80,-0.93) (-2.48,-0.78) (-2.95,-0.89) (-3.50,-1.08) (-4.20,-0.91) (-3.89,-0.84) (-3.26,-0.70) (-2.80,-0.67) (-2.41,-0.60)
(-2.02,-0.56) (-1.70,-0.50) (-1.24,-0.39) (-0.92,-0.32) (-0.46,-0.32) (-0.14,-0.22) (0.01,-0.05) (-0.14,0.09) (0.25,0.22) (0.32,0.36)
(0.01,0.46) (0.32,0.56) (0.48,0.62) (0.17,0.74) (0.17,0.91) (0.01,1.04) (0.32,1.18) (0.64,1.18) (0.56,1.26) (0.25,1.35)
(-0.14,1.38) (-0.46,1.30) (-0.49,1.18) (-0.77,1.25) (-1.08,1.38) (-1.08,1.79) (-1.0,1.84) (-0.46,1.85) (-0.07,1.97) (0.29,1.70)
(-1.78,1.74) (-2.17,2.03) (-1.94,1.96) (-2.17,1.61) (-2.61,1.71) (-2.48,1.80) (-1.63,1.58) (-1.39,1.49) (-2.33,1.40) (-1.70,1.38)
(-2.02,1.32) (-1.24,1.32) (-1.0,1.21) (-2.64,1.25) (-2.33,1.18) (-1.86,1.15) (-1.39,1.08) (-0.92,1.08) (-0.46,1.04) (-0.14,0.91)
(-0.30,0.77) (-0.53,0.67) (-0.14,0.56) (-0.46,0.46) (-0.77,0.29) (-0.38,0.22) (-0.61,0.09) (-1.08,0.02) (-0.46,-0.05) (-0.77,-0.15)
(-1.24,-0.22) (-1.70,-0.29) (-2.02,-0.32) (-2.48,-0.39) (-2.80,-0.32) (-3.11,-0.46) (-3.42,-0.56) (-3.73,-0.50) (-4.04,-0.39) (-3.89,-0.26)
(-3.58,-0.15) (-3.03,-0.29) (1.18,1.39) (1.03,1.50) (0.51,1.26) (0.95,0.94) (0.82,0.26) (1.10,0.15) (-3.89,0.77) (-3.26,0.91)
(-2.64,0.97) (-2.17,0.87) (-1.70,0.77) (-1.08,0.84) (-0.92,0.63) (-1.39,0.50) (-1.86,0.36) (-2.48,0.32) (-2.95,0.22) (-2.64,0.09)
(-2.02,0.09) (-1.39,0.02) (-1.08,0.22) (0.48,-0.4) (0.2,-0.6) (-0.3,-0.75) (-0.9,-0.65) (-1.2,-1.5) (-0.5,-1.1) (-2.7,-1.1)};
% 17.5 M
\addplot[mid, mE] coordinates {
(-5.5,1.25) (-4.95,1.3) (-4.4,1.22) (-3.85,1.28) (-3.35,1.2) (-5.75,1.05) (-5.2,1.1) (-4.65,1.02) (-4.1,1.08) (-3.55,1.0) (-3.05,1.04)
(-5.5,0.85) (-4.95,0.9) (-4.4,0.83) (-3.85,0.88) (-3.3,0.8) (-2.8,0.85) (-5.35,0.65) (-4.8,0.7) (-4.25,0.63) (-3.7,0.68) (-3.15,0.6)
(-5.1,0.45) (-4.55,0.5) (-4.0,0.42) (-3.45,0.48) (-5.0,0.25) (-4.45,0.3) (-3.9,0.22) (-4.9,0.05) (-4.35,0.08)
(-5.1,-0.15) (-4.6,-0.12) (-5.05,-0.35) (-4.55,-0.32) (-5.15,-0.55) (-4.65,-0.52) (-5.0,-0.75) (-4.5,-0.72) (-5.2,-0.95) (-4.7,-0.92)
(-5.35,-1.15) (-4.85,-1.12) (-5.5,-1.35) (-5.9,-1.45) (-6.3,-1.4)
(-4.9,1.5) (-4.3,1.48) (-3.7,1.45)
(-5.25,1.16) (-4.7,1.18) (-4.15,1.15) (-3.6,1.17) (-3.05,1.14)
(-5.6,0.75) (-5.05,0.77) (-4.5,0.74) (-3.95,0.76) (-3.4,0.73) (-2.9,0.7)
(-5.5,0.55) (-4.85,0.57) (-4.3,0.54) (-3.75,0.56) (-3.2,0.4)
(-5.25,0.35) (-4.7,0.37) (-4.15,0.34) (-3.6,0.3)
(-5.2,0.15) (-4.65,0.17) (-4.1,0.14) (-5.3,-0.05) (-4.75,-0.03) (-4.2,-0.06)
(-4.8,-0.25) (-4.3,-0.23) (-4.9,-0.45) (-4.35,-0.43) (-4.8,-0.65) (-4.3,-0.63) (-4.9,-0.85) (-4.45,-0.83)
(-5.05,-1.05) (-4.6,-1.03) (-5.2,-1.25) (-4.75,-1.23) (-5.3,-1.5) (-5.7,-1.55) (-6.1,-1.5) (-6.6,-1.48)};
\addplot[dot, mE] coordinates {
(-4.89,2.31) (-4.70,2.17) (-4.36,2.14) (-5.45,1.94) (-5.21,1.80) (-5.29,1.59) (-4.67,1.85) (-4.20,1.85) (-3.89,1.74) (-3.45,1.78)
(-2.80,2.00) (-4.54,1.59) (-4.28,1.52) (-3.58,1.56) (-4.04,1.45) (-3.58,1.38) (-4.36,1.38) (-5.14,1.32) (-4.59,1.28) (-4.12,1.21)
(-3.34,1.18) (-5.45,1.04) (-5.14,0.94) (-4.82,1.01) (-4.36,0.97) (-3.97,1.04) (-3.58,1.08) (-3.19,0.97) (-2.95,0.87) (-2.64,0.77)
(-3.58,0.84) (-4.36,0.77) (-5.14,0.63) (-4.67,0.56) (-4.20,0.60) (-3.81,0.63) (-3.34,0.60) (-2.95,0.50) (-2.02,0.53) (-4.98,0.43)
(-4.51,0.36) (-4.04,0.29) (-3.58,0.32) (-3.26,0.22) (-4.98,0.15) (-4.59,0.02) (-4.12,-0.05) (-3.73,-0.12) (-4.90,-0.15) (-4.51,-0.26)
(-5.29,-0.46) (-4.67,-0.53) (-4.20,-0.60) (-5.14,-0.63) (-4.82,-0.74) (-4.43,-0.80) (-4.67,-1.01) (-5.45,-1.18) (-5.68,-1.28) (-6.07,-1.32)
(-5.92,-1.45) (-6.31,-1.56) (-6.70,-1.52) (-5.99,-1.64) (-5.68,-1.56) (-5.25,-1.46) (-5.48,-1.73) (-6.31,-1.72) (-6.04,-1.95) (-5.53,-1.93)
(-4.98,-1.94) (-6.76,-2.03) (-7.38,-2.13) (-7.35,-2.30) (-7.09,-1.08) (-5.06,-1.35) (-4.12,-0.32) (-2.33,0.77) (-2.64,1.25) (-2.87,1.13)
(-3.42,0.0) (-3.9,-0.5) (-4.0,-0.9) (-4.3,-1.15) (-3.7,0.45) (-3.0,0.3) (-2.5,0.2) (-2.6,0.95) (-3.1,1.4) (-4.8,1.15)
(-5.5,0.7) (-5.7,0.45) (-4.4,-0.4) (-4.8,-0.35) (-6.9,-1.2) (-6.5,-1.25) (-5.9,-1.1) (-5.6,-0.45) (-6.46,-1.0) (-4.2,0.85)};
% 18.6 M
\addplot[big, mF] coordinates {
(-7.2,0.55) (-6.65,0.57) (-6.1,0.54) (-7.6,0.38) (-7.05,0.40) (-6.5,0.37) (-5.95,0.39)
(-7.8,0.21) (-7.25,0.23) (-6.7,0.20) (-6.15,0.22) (-5.65,0.19) (-7.9,0.04) (-7.35,0.06) (-6.8,0.03) (-6.25,0.05) (-5.7,0.02)
(-7.95,-0.13) (-7.4,-0.11) (-6.85,-0.14) (-6.3,-0.12) (-5.75,-0.15) (-5.35,-0.12)
(-7.85,-0.30) (-7.3,-0.28) (-6.75,-0.31) (-6.2,-0.29) (-5.65,-0.32)
(-7.9,-0.47) (-7.35,-0.45) (-6.8,-0.48) (-6.25,-0.46) (-5.7,-0.49)
(-7.75,-0.64) (-7.2,-0.62) (-6.65,-0.65) (-6.1,-0.63) (-5.6,-0.66)
(-7.55,-0.81) (-7.0,-0.79) (-6.45,-0.82) (-5.9,-0.80) (-7.3,-0.98) (-6.75,-0.96) (-6.2,-0.99)};
\addplot[mid, mF] coordinates {
(-8.35,0.3) (-8.4,0.0) (-8.45,-0.35) (-8.35,-0.7) (-8.2,-1.0) (-7.9,-1.2) (-7.45,-1.3) (-6.95,-1.35) (-6.4,-1.3) (-5.9,-1.2)
(-5.5,-1.0) (-5.3,-0.7) (-5.2,-0.4) (-5.15,-0.1) (-5.25,0.2) (-5.45,0.5) (-5.8,0.75) (-6.3,0.85) (-6.85,0.85) (-7.35,0.75)
(-7.8,0.6) (-8.1,0.45) (-6.6,1.0) (-7.6,-1.45) (-8.6,-0.5) (-5.1,-0.85)};
\addplot[dot, mF] coordinates {
(-10.32,1.19) (-8.41,1.21) (-7.63,1.31) (-7.43,1.37) (-6.91,1.68) (-6.85,1.50) (-6.70,1.38) (-7.98,0.88) (-7.82,0.79) (-8.54,0.71)
(-8.29,0.68) (-8.85,0.41) (-8.57,0.24) (-9.47,0.04) (-9.47,-0.23) (-9.04,-0.34) (-9.32,-0.54) (-8.88,-0.69) (-9.10,-0.83) (-8.60,-0.91)
(-8.60,-1.30) (-8.96,-1.60) (-8.21,-1.62) (-8.02,-1.73) (-7.87,-1.86) (-7.32,-1.68) (-6.98,-1.80) (-6.59,-1.80) (-7.24,-1.49) (-8.26,-1.40)
(-8.72,-0.15) (-8.26,0.15) (-8.41,0.50) (-6.07,1.18) (-5.68,1.08) (-6.38,0.94) (-6.85,1.04) (-5.45,0.87) (-5.29,0.63) (-5.14,0.43)
(-5.06,0.22) (-4.82,0.09) (-5.14,-0.05) (-4.75,-0.22) (-5.29,-0.39) (-5.45,-0.74) (-5.14,-0.91) (-5.45,-1.01) (-4.82,-1.08) (-5.76,-1.25)
(-5.99,-1.42) (-6.54,-1.56) (-3.89,-0.29) (-4.73,0.67) (-5.60,1.32) (-7.7,-1.45) (-8.0,-1.2) (-8.4,-1.0) (-8.5,-0.5) (-8.5,-0.2)
(-8.4,0.3) (-8.1,0.6) (-7.6,0.95) (-7.0,0.95) (-6.5,1.0) (-5.9,0.9) (-5.4,0.4) (-5.3,-0.1) (-5.2,-0.6) (-5.3,-0.9)
(-6.2,-1.4) (-6.8,-1.45) (-7.5,-1.3) (-8.7,-0.4) (-7.3,-1.85) (-6.6,-1.6)};
\path (rel axis cs:0,1) ++(9.7bp,-19.7bp) node[anchor=base west, inner sep=0pt] {\panfont c};
\path (rel axis cs:1,1) ++(-9.4bp,-31.9bp) node[anchor=base east, inner sep=0pt] {\labfont\Rsq{2}{0.788}};
\path (rel axis cs:0.5,0) ++(0bp,-40bp) node[anchor=base, inner sep=0pt] {\labfont\textit{t}\raisebox{-3.5bp}{\fontsize{12.6bp}{14bp}\selectfont 1}};
\end{axis}
\end{tikzpicture}
\end{document}
